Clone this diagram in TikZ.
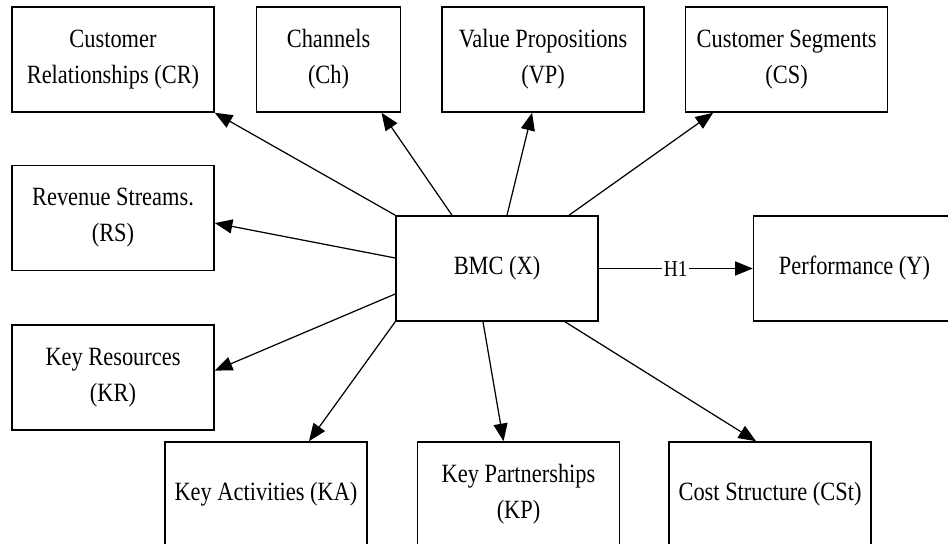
\documentclass[tikz,border=0pt]{standalone}
\usepackage{fontspec}
\setmainfont{Liberation Serif}[FakeStretch=0.85]
\newcommand{\boxfont}{\fontsize{15}{20.5}\selectfont}
\newcommand{\hypfont}{\fontsize{13}{15}\selectfont}
\usepackage{tikz}
\usetikzlibrary{arrows.meta,positioning}
\tikzset{
  block-style/.style = {
    rectangle, draw, line width=0.9pt,
    minimum width=4.04cm,
    minimum height=2.1cm,
    inner sep=2pt, align=center,
    font=\boxfont
  },
  narrow-style/.style = {
    block-style,
    minimum width=2.88cm
  },
  hyp-style/.style = {
    fill=white, inner sep=1pt, font=\hypfont
  },
  every edge/.style = {draw, ->, >={Triangle[length=10pt,width=8pt]}, line width=0.7pt}
}

\begin{document}
\begin{tikzpicture}[x=0.02cm,y=0.02cm]
    \useasboundingbox (0,0) rectangle (948,544);
    \clip (0,0) rectangle (948,544);

    %%% centre and outcome
    \node[block-style] (bmc) at (497,275.5) {BMC (X)};
    \node[block-style,right=3.08cm of bmc] (perf) {Performance (Y)};

    %%% top row
    \node[block-style] (cr) at (113,484.5) {Customer\\Relationships (CR)};
    \node[narrow-style,right=0.82cm of cr] (ch) {Channels\\(Ch)};
    \node[block-style,right=0.8cm of ch] (vp) {Value Propositions\\(VP)};
    \node[block-style,right=0.8cm of vp] (cs) {Customer Segments\\(CS)};

    %%% left column
    \node[block-style,below=1.04cm of cr] (rs) {Revenue Streams.\\(RS)};
    \node[block-style,below=1.06cm of rs] (kr) {Key Resources\\(KR)};

    %%% bottom row
    \node[block-style] (ka) at (266,49.5) {Key Activities (KA)};
    \node[block-style,right=0.98cm of ka] (kp) {Key Partnerships\\(KP)};
    \node[block-style,right=0.96cm of kp] (cst) {Cost Structure (CSt)};

    %%% arrows
    % upwards
    \path (bmc.north west) edge (cr.south east);
    \path ([xshift=-0.9cm]bmc.north) edge ([xshift=1.06cm]ch.south);
    \path ([xshift=0.2cm]bmc.north) edge ([xshift=-0.22cm]vp.south);
    \path ([xshift=1.44cm]bmc.north) edge ([xshift=-1.47cm]cs.south);
    % to the left
    \path ([yshift=0.21cm]bmc.west) edge ([yshift=-0.1cm]rs.east);
    \path ([yshift=-0.51cm]bmc.west) edge ([yshift=0.14cm]kr.east);
    % downwards
    \path (bmc.south west) edge ([xshift=0.86cm]ka.north);
    \path ([xshift=-0.28cm]bmc.south) edge ([xshift=-0.3cm]kp.north);
    \path ([xshift=1.36cm]bmc.south) edge ([xshift=-0.28cm]cst.north);
    % hypothesis
    \path (bmc.east) edge node[hyp-style]{H1} (perf.west);
\end{tikzpicture}
\end{document}
